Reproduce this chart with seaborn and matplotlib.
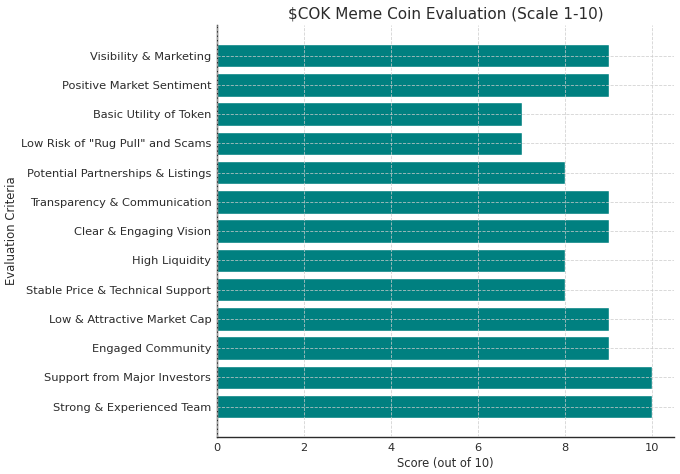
import matplotlib
matplotlib.use("Agg")
import matplotlib.pyplot as plt
import seaborn as sns
import pandas as pd

criteria = [
    "Visibility & Marketing",
    "Positive Market Sentiment",
    "Basic Utility of Token",
    'Low Risk of "Rug Pull" and Scams',
    "Potential Partnerships & Listings",
    "Transparency & Communication",
    "Clear & Engaging Vision",
    "High Liquidity",
    "Stable Price & Technical Support",
    "Low & Attractive Market Cap",
    "Engaged Community",
    "Support from Major Investors",
    "Strong & Experienced Team",
]
scores = [9, 9, 7, 7, 8, 9, 9, 8, 8, 9, 9, 10, 10]

df = pd.DataFrame({"Criteria": criteria, "Score": scores})

sns.set_style("white")
plt.rcParams["font.family"] = ["DejaVu Sans"]
text_color = "#2b2b2b"

fig, ax = plt.subplots(figsize=(6.8, 4.74), dpi=100)
sns.barplot(data=df, x="Score", y="Criteria", order=criteria, orient="h",
            color="#008080", saturation=1, width=0.8, ax=ax)

n = len(criteria)
ax.set_ylim(n - 1 + 1.04, -1.04)
ax.set_xlim(0, 10.5)
ax.set_xticks([0, 2, 4, 6, 8, 10])
ax.set_axisbelow(False)
ax.grid(True, linestyle="--", linewidth=0.6, color="#cccccc", alpha=0.85)

ax.set_title("\\$COK Meme Coin Evaluation (Scale 1-10)", fontsize=11, color=text_color, pad=5)
ax.set_xlabel("Score (out of 10)", fontsize=8.3, color=text_color, labelpad=3)
ax.set_ylabel("Evaluation Criteria", fontsize=8.4, color=text_color, labelpad=2)
ax.tick_params(axis="both", length=0, labelsize=8.2, colors=text_color, pad=4)
for s in ["top", "right"]:
    ax.spines[s].set_visible(False)
for s in ["left", "bottom"]:
    ax.spines[s].set_color(text_color)
    ax.spines[s].set_linewidth(1.0)

fig.subplots_adjust(left=0.319, right=0.991, top=0.947, bottom=0.078)
fig.savefig("out.png", dpi=100)
